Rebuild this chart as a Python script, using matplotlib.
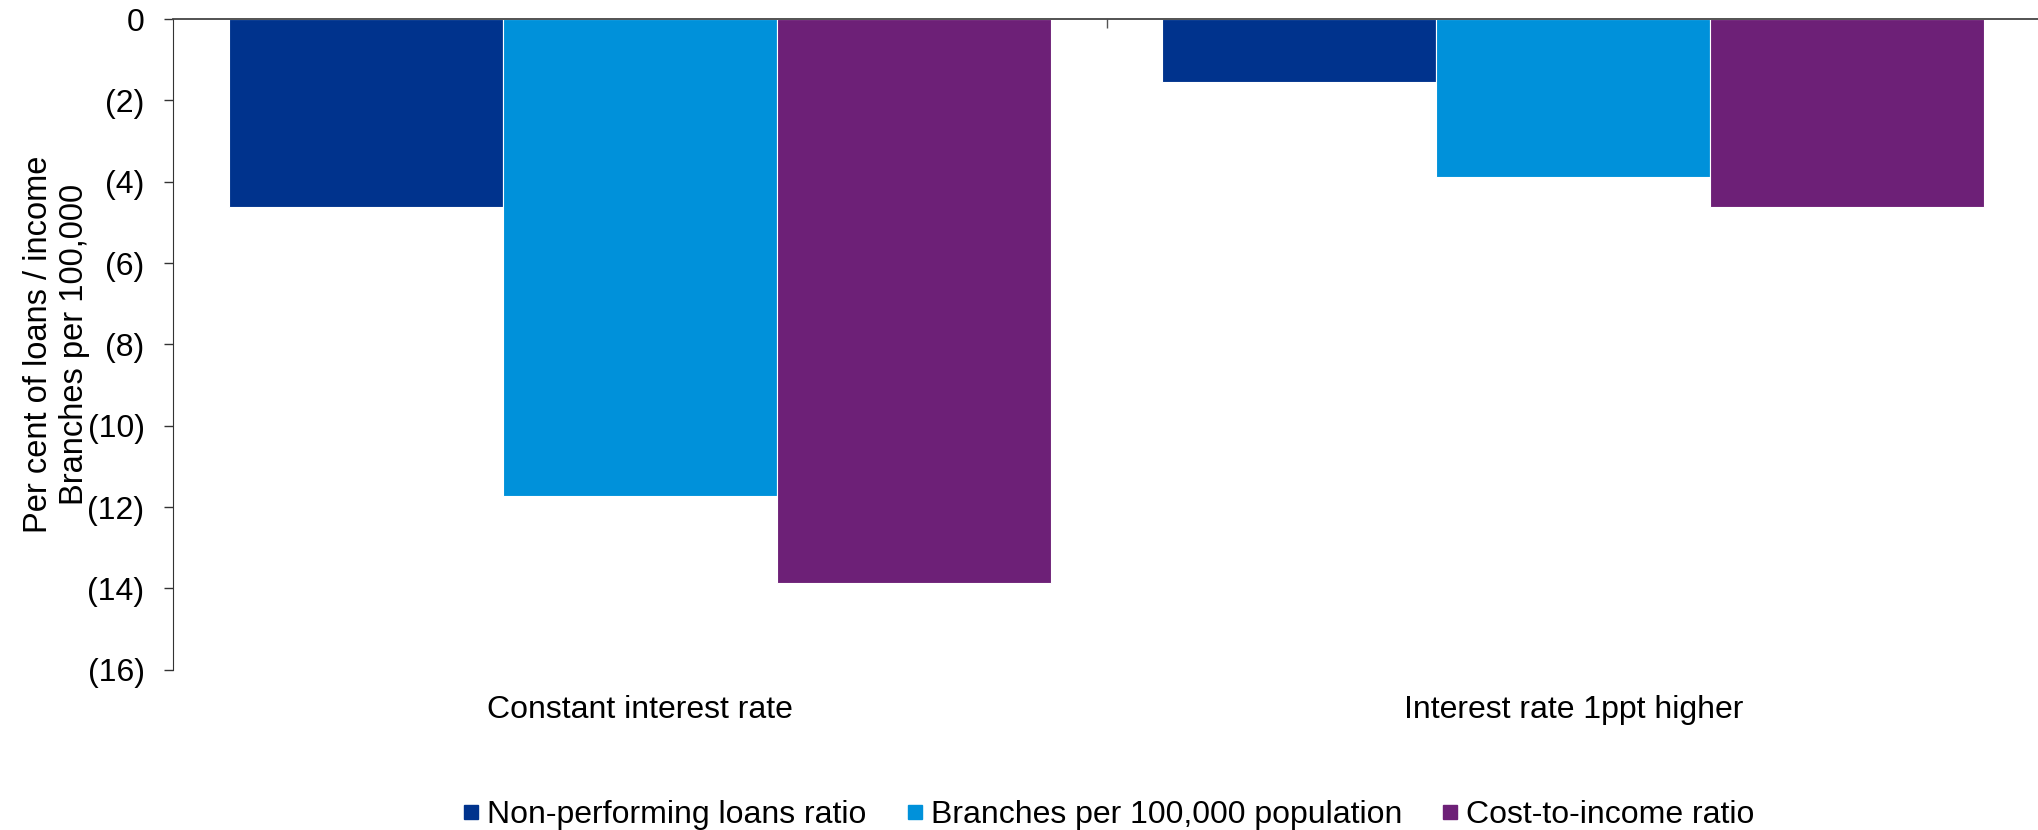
import matplotlib.pyplot as plt
import numpy as np
from matplotlib.lines import Line2D
from matplotlib.ticker import FixedLocator

plt.rcParams["font.family"] = ["Liberation Sans", "DejaVu Sans"]

scenarios = ["Constant interest rate", "Interest rate 1ppt higher"]
series_names = ["Non-performing loans ratio", "Branches per 100,000 population", "Cost-to-income ratio"]
npl_ratio = [-4.63, -1.54]
branches = [-11.72, -3.89]
cost_income = [-13.86, -4.61]
colors = ["#00338D", "#0091DA", "#6D2077"]

y_ticks = [0, -2, -4, -6, -8, -10, -12, -14, -16]
y_labels = ["0", "(2)", "(4)", "(6)", "(8)", "(10)", "(12)", "(14)", "(16)"]

W, H = 2038, 830
fig = plt.figure(figsize=(W / 100, H / 100), dpi=100)
ax = fig.add_axes([173 / W, 160.4 / H, 1867 / W, 650.4 / H])

x = np.arange(len(scenarios))
bw = 0.2935
for i, vals in enumerate([npl_ratio, branches, cost_income]):
    ax.bar(x + (i - 1) * bw, vals, width=bw, color=colors[i],
           edgecolor="white", linewidth=0.8, label=series_names[i])

ax.set_xlim(-0.5, 1.5)
ax.set_ylim(-16, 0)
ax.set_yticks(y_ticks)
ax.set_yticklabels(y_labels, fontsize=23)
ax.set_xticks(x)
ax.set_xticklabels(scenarios, fontsize=23)
ax.tick_params(axis="x", which="major", length=0, pad=18)
ax.tick_params(axis="y", direction="out", length=6.5, width=1, color="#333333", pad=14)

# divider tick between the two groups, hanging from the zero line
ax.xaxis.set_minor_locator(FixedLocator([0.5]))
ax.tick_params(axis="x", which="minor", bottom=False, top=True, direction="in",
               length=6.5, width=1, color="#555555")

for s in ["right", "bottom"]:
    ax.spines[s].set_visible(False)
ax.spines["top"].set_color("#444444")
ax.spines["top"].set_linewidth(1.3)
ax.spines["left"].set_color("#333333")

ax.set_ylabel("Per cent of loans / income\nBranches per 100,000", fontsize=23.5, labelpad=-2)

handles = [Line2D([], [], marker="s", linestyle="none", markersize=10,
                  markerfacecolor=c, markeredgecolor=c) for c in colors]
fig.legend(handles, series_names, loc="center", bbox_to_anchor=((173 + 933.5) / W, 15 / H),
           ncol=3, frameon=False, fontsize=23, handletextpad=0.1,
           columnspacing=1.1, handlelength=0.8)

fig.savefig("out.png", dpi=100)
